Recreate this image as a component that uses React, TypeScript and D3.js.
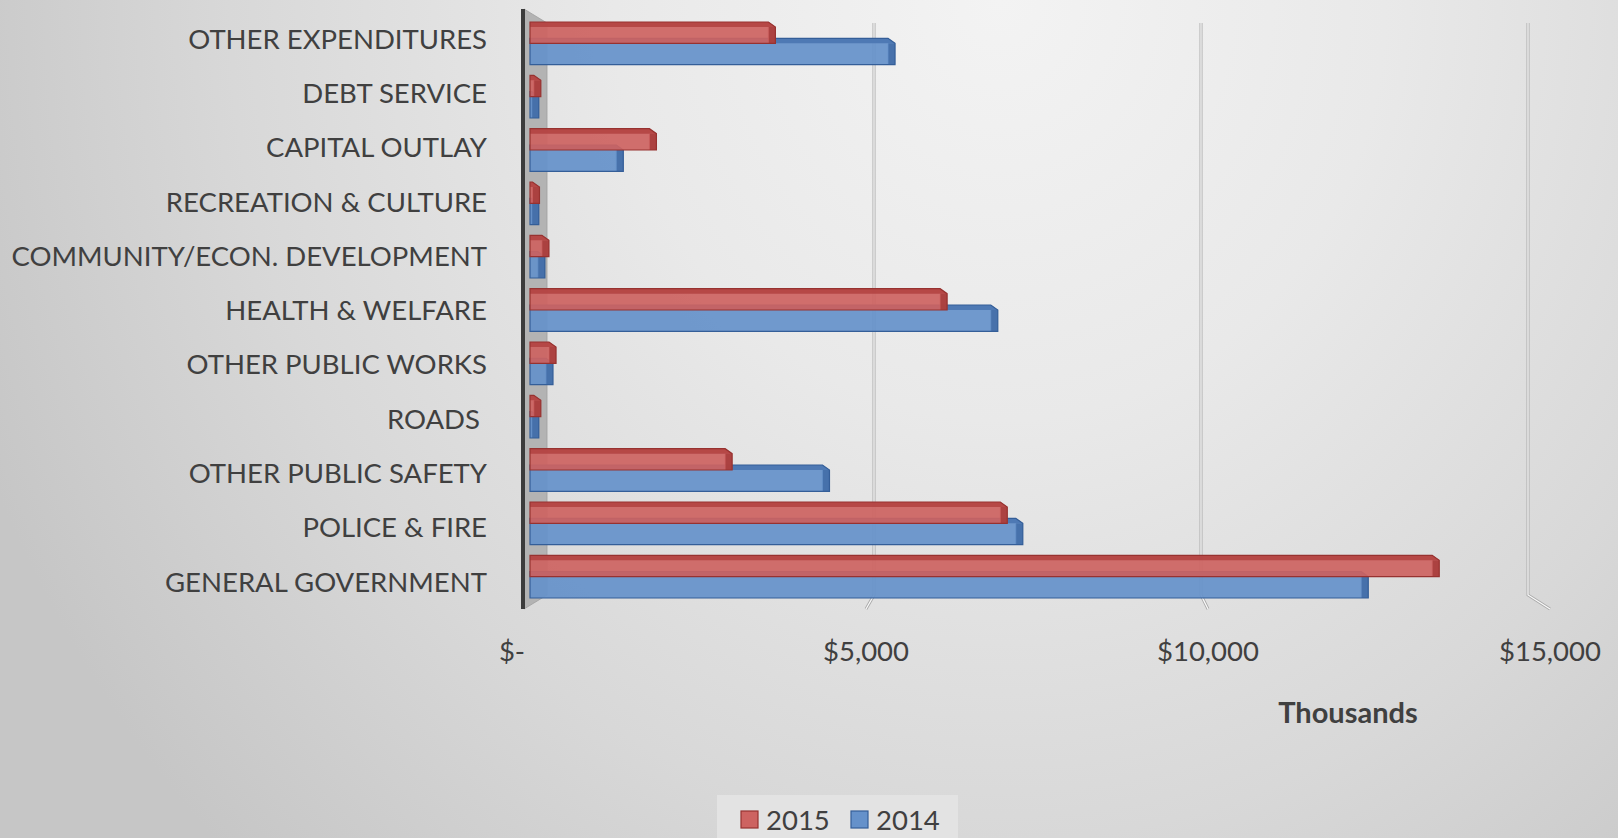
import React from 'react';
import * as d3 from 'd3';

// categories, top to bottom as drawn
const categories = [
  'OTHER EXPENDITURES',
  'DEBT SERVICE',
  'CAPITAL OUTLAY',
  'RECREATION & CULTURE',
  'COMMUNITY/ECON. DEVELOPMENT',
  'HEALTH & WELFARE',
  'OTHER PUBLIC WORKS',
  'ROADS ',
  'OTHER PUBLIC SAFETY',
  'POLICE & FIRE',
  'GENERAL GOVERNMENT',
];

// values in thousands of dollars
const values2015 = [3630, 160, 1870, 140, 280, 6170, 385, 160, 2990, 7060, 13450];
const values2014 = [5400, 130, 1380, 130, 220, 6920, 340, 130, 4430, 7290, 12400];

const seriesNames = ['2015', '2014'];
const xTicks = [0, 5000, 10000, 15000];

const W = 1618;
const H = 838;

const palette: Record<string, { front: string; top: string; side: string; edge: string }> = {
  '2015': { front: '#cd6361', top: '#b24442', side: '#a63b39', edge: '#973230' },
  '2014': { front: '#6591ca', top: '#4a76b1', side: '#3f6aa5', edge: '#345e98' },
};

const fmt = (v: number) => (v === 0 ? '$-' : '$' + d3.format(',')(v));

// one 3d-ish bar: front face, top face and right end cap
const Bar = ({ x0, x1, y, h, s }: { x0: number; x1: number; y: number; h: number; s: string }) => {
  const c = palette[s];
  const dx = Math.min(7, Math.max(x1 - x0 - 1, 0));
  const d = 5;
  const outline = `M${x0},${y - d}L${x1 - dx},${y - d}L${x1},${y}L${x1},${y + h}L${x0},${y + h}Z`;
  return (
    <g>
      <path d={outline} fill={c.front} fillOpacity={0.92} />
      <path d={`M${x0},${y - d}L${x1 - dx},${y - d}L${x1},${y}L${x0},${y}Z`} fill={c.top} fillOpacity={0.9} />
      <rect x={x1 - dx} y={y} width={dx} height={h} fill={c.side} fillOpacity={0.85} />
      <line x1={x1 - dx} x2={x1 - dx} y1={y} y2={y + h} stroke={c.front} strokeOpacity={0.7} />
      <path d={outline} fill="none" stroke={c.edge} strokeWidth={1.2} />
    </g>
  );
};

const App = () => {
  // front plane (bars, labels) and back wall (gridlines)
  const x = d3.scaleLinear().domain([0, 15000]).range([530, 1544]);
  const xFloor = d3.scaleLinear().domain([0, 15000]).range([524, 1550]);
  const xBack = d3.scaleLinear().domain([0, 15000]).range([547, 1528]);

  const y = d3.scaleBand().domain(categories).range([22, 598]).paddingInner(0.2);
  const yInner = d3.scaleBand().domain(seriesNames).range([0, y.bandwidth()]);
  const yLabel = d3.scalePoint().domain(categories).range([39, 582]);

  const series: Record<string, number[]> = { '2015': values2015, '2014': values2014 };

  const wallTop = 9;
  const backTop = 23;
  const backBottom = 595;
  const floorBottom = 609;

  return (
    <div style={{ position: 'absolute', left: 0, top: 0 }}>
      <svg width={W} height={H} style={{ display: 'block' }} fontFamily="Lato, 'Open Sans', sans-serif">
        <defs>
          <radialGradient id="bg" gradientUnits="userSpaceOnUse" cx={0} cy={0} r={1}
            gradientTransform="translate(1000,0) scale(1100,1200)">
            <stop offset="0" stopColor="#f3f3f3" />
            <stop offset="0.35" stopColor="#e9e9e9" />
            <stop offset="0.7" stopColor="#d8d8d8" />
            <stop offset="0.9" stopColor="#cccccc" />
            <stop offset="1" stopColor="#c6c6c6" />
          </radialGradient>
        </defs>
        <rect width={W} height={H} fill="url(#bg)" />

        {/* gridlines on the back wall, bending down at the floor */}
        {xTicks.slice(1).map(t => {
          const p = `M${xBack(t)},${backTop}L${xBack(t)},${backBottom}L${xFloor(t)},${floorBottom}`;
          return (
            <g key={t}>
              <path d={p} fill="none" stroke="#ababab" strokeWidth={3} />
              <path d={p} fill="none" stroke="#fafafa" strokeWidth={1.2} />
            </g>
          );
        })}

        {/* side wall */}
        <path d={`M${xFloor(0)},${wallTop}L${xBack(0)},${backTop}L${xBack(0)},${backBottom}L${xFloor(0)},${floorBottom}Z`}
          fill="#b3b3b3" stroke="#a0a0a0" strokeWidth={0.8} />
        <line x1={xFloor(0) - 1} x2={xFloor(0) - 1} y1={wallTop} y2={floorBottom} stroke="#3c3c3c" strokeWidth={4} />

        {/* bars: 2014 first so 2015 covers its top face */}
        {categories.map((c, i) => (
          <g key={c}>
            {['2014', '2015'].map(s => (
              <Bar key={s} s={s} x0={x(0)} x1={x(series[s][i])}
                y={(y(c) || 0) + (yInner(s) || 0) + (s === '2014' ? 0 : 5)}
                h={yInner.bandwidth() - (s === '2014' ? 0 : 5)} />
            ))}
          </g>
        ))}

        {/* category labels */}
        {categories.map(c => (
          <text key={c} x={487} y={yLabel(c)} dy="0.35em" textAnchor="end" fontSize={27.5} fill="#404040"
            style={{ whiteSpace: 'pre' }}>{c}</text>
        ))}

        {/* value axis labels */}
        {xTicks.map(t => (
          <text key={t} x={xFloor(t)} dx={t === 0 ? -12 : 0} y={661} textAnchor="middle" fontSize={27.5} fill="#404040">
            {fmt(t)}
          </text>
        ))}
        <text x={1348} y={723} textAnchor="middle" fontSize={29} fontWeight="bold" fill="#404040">Thousands</text>

        {/* legend */}
        <rect x={717} y={795} width={241} height={50} fill="#e3e3e3" />
        {seriesNames.map((s, i) => (
          <g key={s} transform={`translate(${741 + i * 110},0)`}>
            <rect x={0} y={811} width={17} height={17} fill={palette[s].front} stroke={palette[s].edge} strokeWidth={1.2} />
            <text x={25} y={830} fontSize={27.5} fill="#404040">{s}</text>
          </g>
        ))}
      </svg>
    </div>
  );
};

export default App;
